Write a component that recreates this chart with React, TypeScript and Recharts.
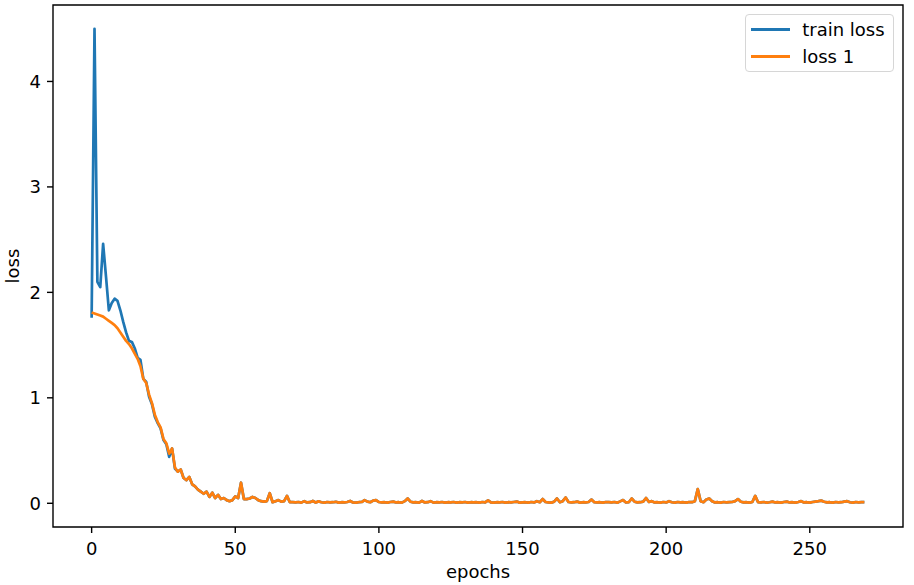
import {
  LineChart,
  Line,
  XAxis,
  YAxis,
  ReferenceArea,
  Label,
} from "recharts";

// loss values per epoch
const trainLoss = [
  1.76, 4.5, 2.1, 2.05, 2.46, 2.15, 1.83, 1.9, 1.94, 1.92,
  1.83, 1.72, 1.62, 1.54, 1.53, 1.47, 1.38, 1.36, 1.18, 1.15,
  1.01, 0.94, 0.82, 0.76, 0.71, 0.6, 0.56, 0.44, 0.52, 0.33,
  0.3, 0.32, 0.24, 0.22, 0.25, 0.18, 0.16, 0.13, 0.11, 0.09,
  0.11, 0.06, 0.1, 0.05, 0.08, 0.04, 0.05, 0.03, 0.02, 0.03,
  0.065, 0.05, 0.195, 0.04, 0.04, 0.045, 0.06, 0.05, 0.03, 0.02,
  0.015, 0.02, 0.095, 0.01, 0.02, 0.03, 0.015, 0.02, 0.07, 0.01,
  0.01, 0.008, 0.012, 0.006, 0.02, 0.008, 0.01, 0.022, 0.007, 0.018,
  0.01, 0.006, 0.012, 0.008, 0.01, 0.014, 0.006, 0.01, 0.008, 0.012,
  0.022, 0.008, 0.006, 0.01, 0.012, 0.03, 0.015, 0.01, 0.025, 0.03,
  0.012, 0.008, 0.01, 0.006, 0.012, 0.016, 0.008, 0.01, 0.006, 0.02,
  0.045, 0.015, 0.008, 0.01, 0.006, 0.022, 0.008, 0.01, 0.02, 0.006,
  0.01, 0.008, 0.012, 0.006, 0.01, 0.008, 0.012, 0.006, 0.01, 0.008,
  0.012, 0.006, 0.01, 0.008, 0.01, 0.006, 0.012, 0.008, 0.028, 0.008,
  0.006, 0.01, 0.008, 0.012, 0.006, 0.01, 0.008, 0.012, 0.016, 0.006,
  0.008, 0.01, 0.006, 0.012, 0.008, 0.02, 0.01, 0.04, 0.012, 0.008,
  0.006, 0.015, 0.045, 0.01, 0.02, 0.055, 0.012, 0.008, 0.01, 0.016,
  0.006, 0.01, 0.008, 0.012, 0.035, 0.01, 0.008, 0.01, 0.006, 0.012,
  0.01, 0.008, 0.012, 0.006, 0.018, 0.03, 0.008, 0.01, 0.045, 0.015,
  0.008, 0.01, 0.015, 0.05, 0.012, 0.02, 0.008, 0.01, 0.006, 0.012,
  0.008, 0.02, 0.01, 0.006, 0.012, 0.008, 0.01, 0.006, 0.012, 0.01,
  0.02, 0.135, 0.02, 0.01, 0.035, 0.045, 0.02, 0.008, 0.01, 0.006,
  0.012, 0.008, 0.01, 0.012, 0.02, 0.04, 0.015, 0.008, 0.01, 0.006,
  0.012, 0.07, 0.01, 0.008, 0.012, 0.006, 0.01, 0.016, 0.008, 0.01,
  0.006, 0.012, 0.016, 0.008, 0.01, 0.006, 0.012, 0.02, 0.008, 0.01,
  0.006, 0.012, 0.016, 0.02, 0.025, 0.015, 0.008, 0.01, 0.006, 0.012,
  0.008, 0.01, 0.016, 0.02, 0.01, 0.006, 0.012, 0.008, 0.01, 0.01,
];

const loss1 = [
  1.81, 1.8, 1.79, 1.78, 1.77, 1.75, 1.73, 1.71, 1.69, 1.66,
  1.62, 1.58, 1.54, 1.51, 1.47, 1.42, 1.37, 1.3, 1.18, 1.14,
  1.03, 0.95, 0.84, 0.77, 0.72, 0.61, 0.57, 0.47, 0.52, 0.34,
  0.3, 0.32, 0.24, 0.22, 0.25, 0.18, 0.16, 0.13, 0.11, 0.09,
  0.11, 0.06, 0.1, 0.05, 0.08, 0.04, 0.05, 0.03, 0.02, 0.03,
  0.065, 0.05, 0.195, 0.04, 0.04, 0.045, 0.06, 0.05, 0.03, 0.02,
  0.015, 0.02, 0.095, 0.01, 0.02, 0.03, 0.015, 0.02, 0.07, 0.01,
  0.01, 0.008, 0.012, 0.006, 0.02, 0.008, 0.01, 0.022, 0.007, 0.018,
  0.01, 0.006, 0.012, 0.008, 0.01, 0.014, 0.006, 0.01, 0.008, 0.012,
  0.022, 0.008, 0.006, 0.01, 0.012, 0.03, 0.015, 0.01, 0.025, 0.03,
  0.012, 0.008, 0.01, 0.006, 0.012, 0.016, 0.008, 0.01, 0.006, 0.02,
  0.045, 0.015, 0.008, 0.01, 0.006, 0.022, 0.008, 0.01, 0.02, 0.006,
  0.01, 0.008, 0.012, 0.006, 0.01, 0.008, 0.012, 0.006, 0.01, 0.008,
  0.012, 0.006, 0.01, 0.008, 0.01, 0.006, 0.012, 0.008, 0.028, 0.008,
  0.006, 0.01, 0.008, 0.012, 0.006, 0.01, 0.008, 0.012, 0.016, 0.006,
  0.008, 0.01, 0.006, 0.012, 0.008, 0.02, 0.01, 0.04, 0.012, 0.008,
  0.006, 0.015, 0.045, 0.01, 0.02, 0.055, 0.012, 0.008, 0.01, 0.016,
  0.006, 0.01, 0.008, 0.012, 0.035, 0.01, 0.008, 0.01, 0.006, 0.012,
  0.01, 0.008, 0.012, 0.006, 0.018, 0.03, 0.008, 0.01, 0.045, 0.015,
  0.008, 0.01, 0.015, 0.05, 0.012, 0.02, 0.008, 0.01, 0.006, 0.012,
  0.008, 0.02, 0.01, 0.006, 0.012, 0.008, 0.01, 0.006, 0.012, 0.01,
  0.02, 0.135, 0.02, 0.01, 0.035, 0.045, 0.02, 0.008, 0.01, 0.006,
  0.012, 0.008, 0.01, 0.012, 0.02, 0.04, 0.015, 0.008, 0.01, 0.006,
  0.012, 0.07, 0.01, 0.008, 0.012, 0.006, 0.01, 0.016, 0.008, 0.01,
  0.006, 0.012, 0.016, 0.008, 0.01, 0.006, 0.012, 0.02, 0.008, 0.01,
  0.006, 0.012, 0.016, 0.02, 0.025, 0.015, 0.008, 0.01, 0.006, 0.012,
  0.008, 0.01, 0.016, 0.02, 0.01, 0.006, 0.012, 0.008, 0.01, 0.01,
];

const xTicks = [0, 50, 100, 150, 200, 250];
const yTicks = [0, 1, 2, 3, 4];

const BLUE = "#1f77b4";
const ORANGE = "#ff7f0e";
const FONT = "'DejaVu Sans', sans-serif";

// matplotlib-ish auto limits (5% margins)
const X_MIN = -13.45;
const X_MAX = 282.45;
const Y_MIN = -0.225;
const Y_MAX = 4.725;

const series = [
  { key: "train", name: "train loss", color: BLUE },
  { key: "loss1", name: "loss 1", color: ORANGE },
];

function LegendBox() {
  return (
    <div
      style={{
        position: "absolute",
        left: 745,
        top: 14,
        width: 149,
        height: 58,
        boxSizing: "border-box",
        border: "1px solid #d6d6d6",
        borderRadius: 4,
        background: "rgba(255,255,255,0.8)",
        paddingTop: 1,
        fontFamily: FONT,
        fontSize: 18,
        color: "#000",
      }}
    >
      {series.map((s) => (
        <div
          key={s.key}
          style={{ display: "flex", alignItems: "center", height: 26.7 }}
        >
          <span
            style={{
              display: "inline-block",
              width: 39,
              height: 3,
              marginLeft: 4.7,
              marginRight: 12.5,
              background: s.color,
            }}
          />
          <span>{s.name}</span>
        </div>
      ))}
    </div>
  );
}

export default function App() {
  const data = trainLoss.map((v, i) => ({
    epoch: i,
    train: v,
    loss1: loss1[i],
  }));

  return (
    <div
      style={{
        position: "absolute",
        left: 0,
        top: 0,
        width: 914,
        height: 585,
        background: "#fff",
        fontFamily: FONT,
      }}
    >
      <LineChart
        width={914}
        height={585}
        data={data}
        margin={{ top: 5, right: 11, left: 0, bottom: 0 }}
        style={{ fontFamily: FONT }}
      >
        <XAxis
          dataKey="epoch"
          type="number"
          domain={[X_MIN, X_MAX]}
          ticks={xTicks}
          allowDataOverflow
          height={58}
          axisLine={false}
          tickSize={6}
          tickMargin={9}
          tickLine={{ stroke: "#000", strokeWidth: 1.4 }}
          tick={{ fill: "#000", fontSize: 18 }}
        >
          <Label
            content={() => (
              <text
                x={478}
                y={578}
                textAnchor="middle"
                fontSize={18}
                fill="#000"
                fontFamily={FONT}
              >
                epochs
              </text>
            )}
          />
        </XAxis>
        <YAxis
          type="number"
          domain={[Y_MIN, Y_MAX]}
          ticks={yTicks}
          allowDataOverflow
          width={53}
          axisLine={false}
          tickSize={6}
          tickMargin={6}
          tickLine={{ stroke: "#000", strokeWidth: 1.4 }}
          tick={{ fill: "#000", fontSize: 18 }}
        >
          <Label
            content={() => (
              <text
                x={19}
                y={266}
                transform="rotate(-90 19 266)"
                textAnchor="middle"
                fontSize={18}
                fill="#000"
                fontFamily={FONT}
              >
                loss
              </text>
            )}
          />
        </YAxis>
        <ReferenceArea
          x1={X_MIN}
          x2={X_MAX}
          y1={Y_MIN}
          y2={Y_MAX}
          fill="none"
          fillOpacity={0}
          stroke="#000"
          strokeWidth={1.4}
          strokeOpacity={1}
          ifOverflow="visible"
        />
        {series.map((s) => (
          <Line
            key={s.key}
            dataKey={s.key}
            name={s.name}
            type="linear"
            stroke={s.color}
            strokeWidth={2.7}
            strokeLinejoin="round"
            dot={false}
            activeDot={false}
            isAnimationActive={false}
          />
        ))}
      </LineChart>
      <LegendBox />
    </div>
  );
}
